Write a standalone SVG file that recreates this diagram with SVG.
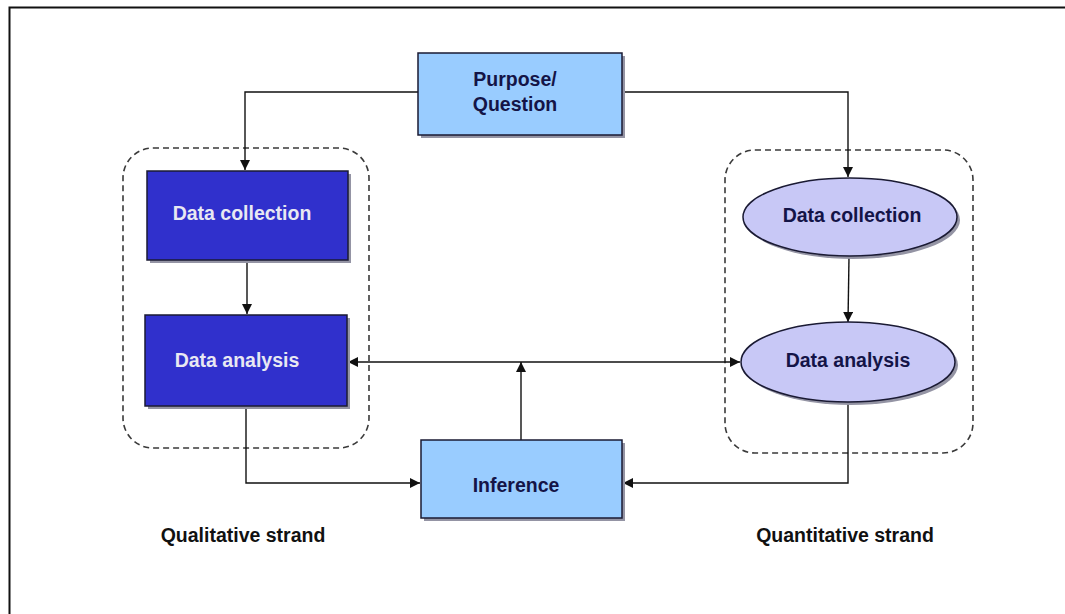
<svg xmlns="http://www.w3.org/2000/svg" width="1065" height="614" viewBox="0 0 1065 614">
  <style>
    .lbl { font-family: "Liberation Sans", Arial, sans-serif; font-weight: bold; font-size: 19.5px; text-anchor: middle; }
    .dark { fill: #141447; }
    .light { fill: #e8e8f2; }
    .edge { fill: none; stroke: #111; stroke-width: 1.4; }
    .group { fill: none; stroke: #3a3a3a; stroke-width: 1.6; stroke-dasharray: 6 4; }
    .shadow { fill: #9494a4; }
    .rectPale { fill: #99ccff; stroke: #1a1a33; stroke-width: 1.5; }
    .rectDeep { fill: #3030cc; stroke: #1a1a33; stroke-width: 1.5; }
    .ellPale { fill: #c8c8f6; stroke: #1a1a33; stroke-width: 1.5; }
  </style>
  <defs>
    <marker id="arrow" viewBox="0 0 10 10" refX="10" refY="5" markerWidth="10" markerHeight="10" markerUnits="userSpaceOnUse" orient="auto-start-reverse">
      <path d="M0,0 L10,5 L0,10 z" fill="#111"/>
    </marker>
  </defs>

  <!-- page frame -->
  <rect x="0" y="0" width="1065" height="614" fill="#ffffff"/>
  <path d="M9.5,614 V7.5 H1065" fill="none" stroke="#111" stroke-width="2"/>

  <!-- strand groupings -->
  <g id="qualitative-strand">
    <rect class="group" x="123" y="148" width="246" height="300" rx="30" ry="30"/>
    <text class="lbl" x="243" y="542" fill="#111">Qualitative strand</text>
  </g>
  <g id="quantitative-strand">
    <rect class="group" x="725" y="150" width="248" height="303" rx="30" ry="30"/>
    <text class="lbl" x="845" y="542" fill="#111">Quantitative strand</text>
  </g>

  <!-- connectors -->
  <g id="connectors">
    <path class="edge" d="M418,92 H245 V170" marker-end="url(#arrow)"/>
    <path class="edge" d="M622,92 H848 V177" marker-end="url(#arrow)"/>
    <path class="edge" d="M247,260 V314" marker-end="url(#arrow)"/>
    <path class="edge" d="M849,257 L848,322" marker-end="url(#arrow)"/>
    <path class="edge" d="M348,362 H740" marker-start="url(#arrow)" marker-end="url(#arrow)"/>
    <path class="edge" d="M521,440 V362" marker-end="url(#arrow)"/>
    <path class="edge" d="M246,406 V483 H420" marker-end="url(#arrow)"/>
    <path class="edge" d="M848,402 V483 H623" marker-end="url(#arrow)"/>
  </g>

  <!-- nodes -->
  <g id="purpose">
    <rect class="shadow" x="421" y="56" width="204" height="82"/>
    <rect class="rectPale" x="418" y="53" width="204" height="82"/>
    <text class="lbl dark" x="515" y="86">Purpose/</text>
    <text class="lbl dark" x="515" y="111">Question</text>
  </g>

  <g id="qual-collection">
    <rect class="shadow" x="150" y="174" width="201" height="89"/>
    <rect class="rectDeep" x="147" y="171" width="201" height="89"/>
    <text class="lbl light" x="242" y="220">Data collection</text>
  </g>

  <g id="qual-analysis">
    <rect class="shadow" x="148" y="318" width="202" height="91"/>
    <rect class="rectDeep" x="145" y="315" width="202" height="91"/>
    <text class="lbl light" x="237" y="367">Data analysis</text>
  </g>

  <g id="quant-collection">
    <ellipse class="shadow" cx="853" cy="220" rx="107" ry="39"/>
    <ellipse class="ellPale" cx="850" cy="217" rx="107" ry="39"/>
    <text class="lbl dark" x="852" y="222">Data collection</text>
  </g>

  <g id="quant-analysis">
    <ellipse class="shadow" cx="851" cy="365" rx="107" ry="40"/>
    <ellipse class="ellPale" cx="848" cy="362" rx="107" ry="40"/>
    <text class="lbl dark" x="848" y="367">Data analysis</text>
  </g>

  <g id="inference">
    <rect class="shadow" x="424" y="443" width="201" height="78"/>
    <rect class="rectPale" x="421" y="440" width="201" height="78"/>
    <text class="lbl dark" x="516" y="492">Inference</text>
  </g>
</svg>
